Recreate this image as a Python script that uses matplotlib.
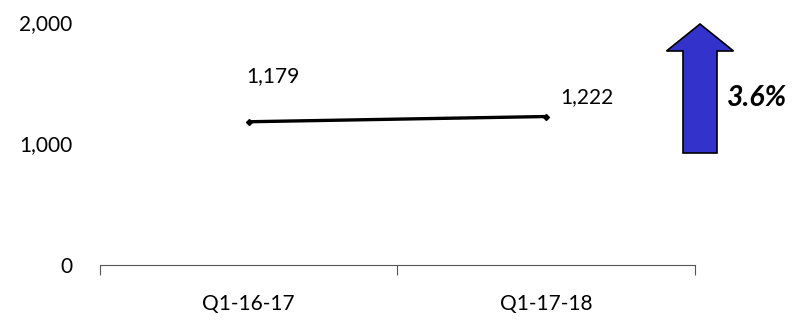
import matplotlib
matplotlib.use("Agg")
import matplotlib.pyplot as plt
from matplotlib.patches import FancyArrow
from matplotlib.ticker import FuncFormatter, FixedLocator

plt.rcParams['font.family'] = ['Lato', 'DejaVu Sans']

periods = ["Q1-16-17", "Q1-17-18"]
values = [1179, 1222]
growth_label = "3.6%"
y_ticks = [0, 1000, 2000]

W, H = 812, 320
fig = plt.figure(figsize=(W / 100, H / 100), dpi=100)
ax = fig.add_axes([100 / W, 1 - 265 / H, 595 / W, 243 / H])

xs = list(range(len(periods)))
ax.plot(xs, values, color="black", lw=2.4, marker="D", ms=3, solid_capstyle="butt")

ax.set_xlim(-0.5, len(periods) - 0.5)
ax.set_ylim(0, 2000)

ax.yaxis.set_major_locator(FixedLocator(y_ticks))
ax.yaxis.set_major_formatter(FuncFormatter(lambda v, p: f"{int(v):,}"))
ax.tick_params(axis="y", length=0, pad=20, labelsize=15)

# category boundaries get tick marks, labels sit in between
ax.set_xticks([-0.5, 0.5, 1.5])
ax.set_xticklabels([])
ax.set_xticks(xs, minor=True)
ax.set_xticklabels(periods, minor=True)
ax.tick_params(axis="x", which="major", length=7, width=0.8, color="#555555", direction="out")
ax.tick_params(axis="x", which="minor", length=0, pad=21, labelsize=15)

for s in ["top", "right", "left"]:
    ax.spines[s].set_visible(False)
ax.spines["bottom"].set_color("#555555")
ax.spines["bottom"].set_linewidth(0.8)

# value labels
ax.annotate(f"{values[0]:,}", (xs[0], values[0]), xytext=(-2, 33),
            textcoords="offset points", ha="left", va="center", fontsize=15)
ax.annotate(f"{values[1]:,}", (xs[1], values[1]), xytext=(10, 14),
            textcoords="offset points", ha="left", va="center", fontsize=15)

# growth arrow in pixel coordinates
ov = fig.add_axes([0, 0, 1, 1])
ov.set_xlim(0, W)
ov.set_ylim(H, 0)
ov.axis("off")
ov.add_patch(FancyArrow(700, 153, 0, -129, width=34, head_width=67, head_length=27,
                        length_includes_head=True, facecolor="#3333CC",
                        edgecolor="black", lw=1.2))
ov.text(727, 98, growth_label, ha="left", va="center", fontsize=20.5,
        fontweight="bold", fontstyle="italic")

fig.savefig("out.png", dpi=100)
